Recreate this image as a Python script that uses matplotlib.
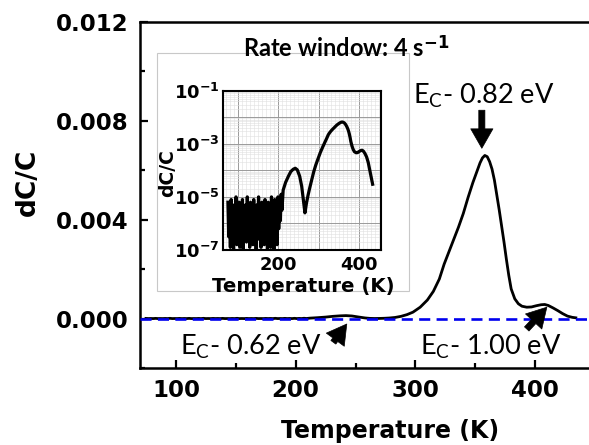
import numpy as np
import matplotlib
matplotlib.use("Agg")
import matplotlib.pyplot as plt
from matplotlib.ticker import MultipleLocator, LogLocator, NullFormatter, FixedLocator, FixedFormatter
from matplotlib.patches import Rectangle

plt.rcParams['mathtext.fontset'] = 'custom'
plt.rcParams['mathtext.rm'] = 'Lato'
plt.rcParams['mathtext.it'] = 'Lato:italic'
plt.rcParams['mathtext.bf'] = 'DejaVu Sans:bold'

# ---------------- data ----------------
# low-temperature noise region (log10 of dC/C)
T_noise = [75, 77, 79, 81, 83, 85, 87, 89, 91, 93, 95, 97, 99, 101, 103, 105, 107, 109,
           111, 113, 115, 117, 119, 121, 123, 125, 127, 129, 131, 133, 135, 137, 139, 141,
           143, 145, 147, 149, 151, 153, 155, 157, 159, 161, 163, 165, 167, 169, 171, 173,
           175, 177, 179, 181, 183, 185, 187, 189, 191, 193, 195, 197, 199, 201, 203, 205,
           207, 209]
noise_log10 = [-5.2, -6.5, -5.4, -6.9, -5.1, -6.2, -5.6, -7.0, -5.3, -6.4,
               -5.0, -6.8, -5.5, -6.1, -5.2, -6.9, -5.4, -6.3, -5.1, -7.0,
               -5.6, -6.2, -5.3, -6.7, -5.0, -6.5, -5.5, -6.9, -5.2, -6.0,
               -5.4, -6.8, -5.1, -6.4, -5.6, -7.0, -5.3, -6.2, -5.0, -6.6,
               -5.5, -6.9, -5.2, -6.3, -5.4, -6.8, -5.1, -6.5, -5.6, -7.0,
               -5.2, -6.1, -5.3, -6.9, -5.0, -6.4, -5.5, -7.0, -5.1, -6.6,
               -5.3, -6.8, -5.0, -6.2, -5.2, -5.9, -4.9, -5.5]

# DLTS signal (dC/C)
T_sig = [212, 218, 225, 231, 237, 242, 247, 253, 258, 262, 266, 270, 274, 278, 283, 288,
         293, 298, 304, 310, 315, 320, 324, 328, 332, 336, 340, 344, 348, 351, 354, 356,
         358, 360, 362, 364, 366, 368, 370, 372, 374, 376, 378, 380, 383, 386, 389, 393,
         397, 401, 405, 408, 411, 415, 419, 423, 427, 431, 434]
dcc_sig = [1.8e-5, 3.5e-5, 6e-5, 9e-5, 1.1e-4, 1.2e-4, 1.05e-4, 6e-5, 2.5e-5, 8e-6,
           2.5e-6, 6e-6, 1.2e-5, 2.2e-5, 4.5e-5, 9e-5, 1.6e-4, 2.6e-4, 4.6e-4, 7.5e-4,
           1.1e-3, 1.6e-3, 2.2e-3, 2.7e-3, 3.2e-3, 3.7e-3, 4.25e-3, 4.9e-3, 5.5e-3, 5.9e-3,
           6.3e-3, 6.5e-3, 6.6e-3, 6.55e-3, 6.35e-3, 6.05e-3, 5.6e-3, 5.0e-3, 4.4e-3, 3.75e-3,
           3.1e-3, 2.4e-3, 1.75e-3, 1.2e-3, 8e-4, 6e-4, 5e-4, 4.6e-4, 4.7e-4, 5.2e-4,
           5.6e-4, 5.7e-4, 5.3e-4, 4.3e-4, 3.2e-4, 2.0e-4, 1.0e-4, 5e-5, 3e-5]

x_ticks = [100, 200, 300, 400]
y_ticks = [0.000, 0.004, 0.008, 0.012]
y_tick_labels = ['0.000', '0.004', '0.008', '0.012']
inset_x_ticks = [100, 200, 300, 400]
inset_x_labels = ['', '200', '', '400']
inset_y_ticks = [1e-7, 1e-6, 1e-5, 1e-4, 1e-3, 1e-2, 1e-1]
inset_y_labels = [r'$\mathbf{10^{-7}}$', '', r'$\mathbf{10^{-5}}$', '',
                  r'$\mathbf{10^{-3}}$', '', r'$\mathbf{10^{-1}}$']

T_all = np.array(T_noise + T_sig, dtype=float)
dcc_all = np.concatenate([10.0 ** np.array(noise_log10), np.array(dcc_sig)])

# ---------------- figure ----------------
W, H = 589, 445
fig = plt.figure(figsize=(W / 100, H / 100), dpi=100)

def fx(px):
    return px / W

def fy(py):
    return 1 - py / H

ax = fig.add_axes([fx(140), fy(368), 1 - fx(140), fy(22) - fy(368)])
ax.plot(T_all, dcc_all, color='black', lw=2.0, zorder=2)
ax.axhline(0, color='#0000ee', lw=1.9, dashes=(4.2, 2.4), zorder=3)
ax.set_xlim(70, 445)
ax.set_ylim(-0.002, 0.012)
ax.spines['right'].set_visible(False)
for s in ['left', 'bottom', 'top']:
    ax.spines[s].set_linewidth(1.8)
ax.set_xticks(x_ticks)
ax.set_xticklabels([str(t) for t in x_ticks])
ax.set_yticks(y_ticks)
ax.set_yticklabels(y_tick_labels)
ax.xaxis.set_minor_locator(MultipleLocator(50))
ax.yaxis.set_minor_locator(MultipleLocator(0.002))
ax.tick_params(which='both', direction='in', top=False, right=False, width=1.6)
ax.tick_params(which='major', length=6, pad=8, labelsize=16.5)
ax.tick_params(which='minor', length=3.5)
for lab in ax.get_xticklabels() + ax.get_yticklabels():
    lab.set_fontweight('bold')
    lab.set_family('DejaVu Sans')

fig.text(fx(28), fy(182), 'dC/C', rotation=90, ha='center', va='center',
         fontsize=19, fontweight='bold', family='DejaVu Sans')
fig.text(fx(390), fy(431), 'Temperature (K)', ha='center', va='center',
         fontsize=17, fontweight='bold', family='DejaVu Sans')

# inset frame
frame = Rectangle((fx(157), fy(291)), fx(409) - fx(157), fy(53) - fy(291),
                  transform=fig.transFigure, facecolor='white', edgecolor='#c8c8c8',
                  lw=0.8, zorder=1)
fig.add_artist(frame)

# arrows
arrow_style = 'simple,head_length=0.7,head_width=0.8,tail_width=0.22'
for tip, tail in [((355.5, 0.00689), (355.5, 0.00843)),
                  ((242.7, -0.00022), (231.5, -0.00096)),
                  ((409.8, 0.00046), (393.0, -0.00042))]:
    ax.annotate('', xy=tip, xytext=tail,
                arrowprops=dict(arrowstyle=arrow_style, fc='black', ec='black', lw=0.5,
                                shrinkA=0, shrinkB=0, mutation_scale=20), zorder=4)

# annotation texts
fig.text(fx(413), fy(103.3), r'E$_\mathrm{C}$- 0.82 eV', ha='left', va='baseline',
         fontsize=19.5, family='Lato', zorder=5)
fig.text(fx(180), fy(355), r'E$_\mathrm{C}$- 0.62 eV', ha='left', va='baseline',
         fontsize=19.5, family='Lato', zorder=5)
fig.text(fx(420), fy(355), r'E$_\mathrm{C}$- 1.00 eV', ha='left', va='baseline',
         fontsize=19.5, family='Lato', zorder=5)
fig.text(fx(243), fy(56.7), r'Rate window: 4 s$^{\mathbf{-1}}$', ha='left', va='baseline',
         fontsize=17, family='Lato', fontweight='bold', zorder=5)

# ---------------- inset ----------------
axi = fig.add_axes([fx(222.7), fy(250), fx(380.7) - fx(222.7), fy(90.7) - fy(250)], zorder=3)
axi.plot(T_all, dcc_all, color='black', lw=2.3, zorder=3)
axi.set_yscale('log')
axi.set_xlim(62, 454)
axi.set_ylim(1e-7, 1e-1)
axi.xaxis.set_major_locator(FixedLocator(inset_x_ticks))
axi.xaxis.set_major_formatter(FixedFormatter(inset_x_labels))
axi.xaxis.set_minor_locator(MultipleLocator(10))
axi.yaxis.set_major_locator(FixedLocator(inset_y_ticks))
axi.yaxis.set_major_formatter(FixedFormatter(inset_y_labels))
axi.yaxis.set_minor_locator(LogLocator(base=10, subs=np.arange(2, 10), numticks=20))
axi.yaxis.set_minor_formatter(NullFormatter())
axi.grid(which='major', color='#9a9a9a', lw=0.7)
axi.grid(which='minor', color='#e0e0e0', lw=0.4)
axi.set_axisbelow(True)
for s in axi.spines.values():
    s.set_linewidth(1.5)
axi.tick_params(which='both', direction='in', length=0, labelsize=13)
axi.tick_params(axis='y', pad=2)
axi.tick_params(axis='x', pad=4)
for lab in axi.get_xticklabels():
    lab.set_fontweight('bold')
    lab.set_family('DejaVu Sans')

fig.text(fx(168), fy(173.5), 'dC/C', rotation=90, ha='center', va='center',
         fontsize=13.5, fontweight='bold', family='DejaVu Sans')
fig.text(fx(303), fy(287), 'Temperature (K)', ha='center', va='center',
         fontsize=14.2, fontweight='bold', family='DejaVu Sans')

fig.savefig('out.png', dpi=100)
